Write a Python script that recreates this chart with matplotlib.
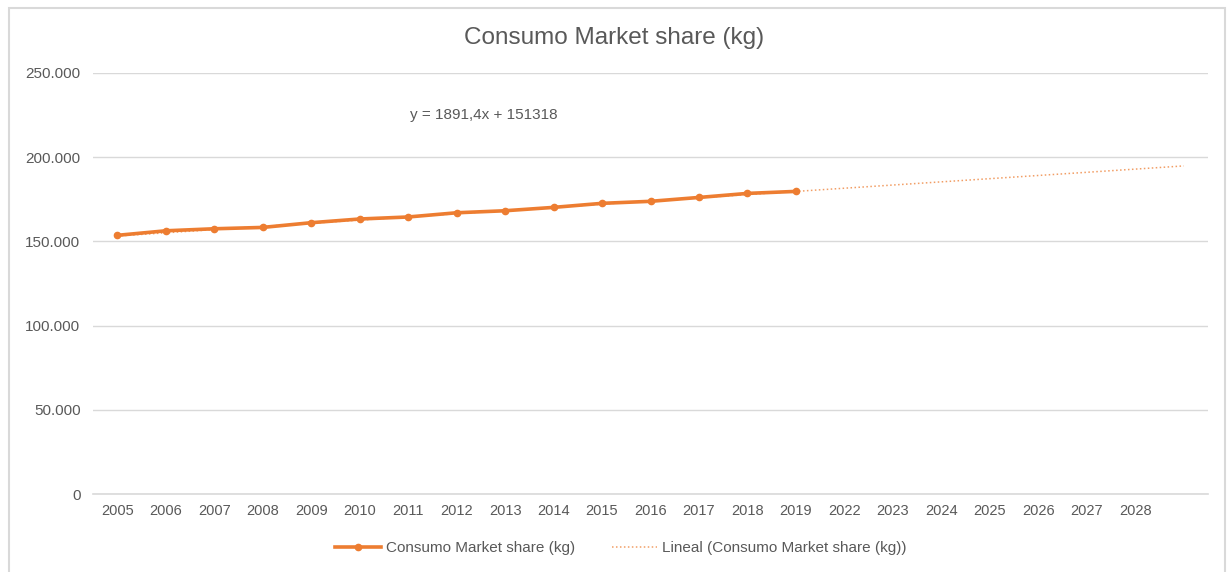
import matplotlib.pyplot as plt
from matplotlib.ticker import FuncFormatter
from matplotlib.patches import Rectangle

# data
years = ['2005', '2006', '2007', '2008', '2009', '2010', '2011', '2012', '2013', '2014',
         '2015', '2016', '2017', '2018', '2019', '2022', '2023', '2024', '2025', '2026',
         '2027', '2028', '']
consumo = [153600, 156300, 157500, 158300, 161100, 163300, 164500, 167000, 168200,
           170200, 172600, 173800, 176100, 178500, 179700]
trend_slope = 1891.4
trend_intercept = 151318

orange = '#ED7D31'
gray_text = '#595959'
grid_gray = '#D9D9D9'

plt.rcParams['font.family'] = ['Liberation Sans', 'DejaVu Sans']

fig = plt.figure(figsize=(12.29, 5.72), dpi=100)
ax = fig.add_axes([93 / 1229, 1 - 494 / 572, (1208 - 93) / 1229, (494 - 73) / 572])

xpos = list(range(1, len(years) + 1))
ax.plot(xpos[:len(consumo)], consumo, color=orange, lw=2.6, marker='o', markersize=4.5,
        label='Consumo Market share (kg)', zorder=3)

trend_y = [trend_slope * x + trend_intercept for x in xpos]
ax.plot(xpos, trend_y, color=orange, alpha=0.75, lw=1.1, linestyle=(0, (1, 1.6)),
        label='Lineal (Consumo Market share (kg))', zorder=2)

ax.set_xlim(0.5, len(years) + 0.5)
ax.set_ylim(0, 250000)
ax.set_xticks(xpos)
ax.set_xticklabels(years)
ax.set_yticks(range(0, 250001, 50000))
ax.yaxis.set_major_formatter(FuncFormatter(lambda v, p: f'{int(v):,}'.replace(',', '.')))
ax.tick_params(axis='both', length=0, colors=gray_text)
ax.tick_params(axis='y', labelsize=11, pad=9)
ax.tick_params(axis='x', labelsize=10.5, pad=7)
ax.grid(axis='y', color=grid_gray, lw=1)
ax.axhline(0, color=grid_gray, lw=1.2, clip_on=False, zorder=1)
ax.set_axisbelow(True)
for s in ax.spines.values():
    s.set_visible(False)

fig.text(0.5, 1 - 38 / 572, 'Consumo Market share (kg)', ha='center', va='center',
         fontsize=17.5, color=gray_text)
fig.text(484 / 1229, 1 - 115 / 572, 'y = 1891,4x + 151318', ha='center', va='center',
         fontsize=11, color=gray_text)

fig.legend(loc='center', bbox_to_anchor=(621 / 1229, 1 - 548 / 572), ncol=2, frameon=False,
           fontsize=11, handlelength=3.0, columnspacing=2.4, handletextpad=0.3,
           labelcolor=gray_text)

fig.patches.append(Rectangle((9 / 1229, -0.05), (1225 - 9) / 1229, 1.05 - 8 / 572,
                             transform=fig.transFigure, fill=False, edgecolor=grid_gray, lw=1.5))

fig.savefig('out.png', dpi=100, facecolor='white')
